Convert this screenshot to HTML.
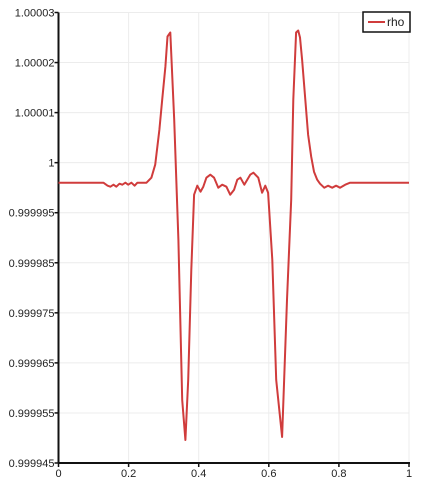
<!DOCTYPE html>
<html><head><meta charset="utf-8"><style>
html,body{margin:0;padding:0;background:#fff;}
svg{display:block;font-family:"Liberation Sans",sans-serif;}
</style></head><body>
<svg id="chart" width="423" height="481">
<rect x="0" y="0" width="423" height="481" fill="#fff"/>
<g id="grid"></g>
<g id="axes"></g>
<path id="line" fill="none" stroke="#d03c3c" stroke-width="2" stroke-linejoin="round"/>
<g>
<rect x="363" y="12" width="47" height="20" fill="#fff" stroke="#111" stroke-width="1.5"/>
<line x1="368" y1="22" x2="385" y2="22" stroke="#d03c3c" stroke-width="2"/>
<text x="387" y="26" font-size="12" fill="#222">rho</text>
</g>
</svg>
<script>
const xs = [0,.128,.140,.148,.157,.165,.174,.182,.191,.199,.208,.217,.225,.251,.265,.276,.288,.296,.305,.311,.319,.330,.342,.353,.362,.370,.379,.387,.396,.405,.413,.422,.433,.444,.456,.467,.479,.490,.501,.510,.519,.530,.547,.556,.570,.581,.590,.598,.610,.621,.638,.652,.664,.670,.678,.684,.689,.695,.704,.712,.721,.729,.738,.746,.758,.769,.781,.792,.803,.818,.832,1];
const rho = [.999996,.999996,.9999954,.9999952,.9999956,.9999952,.9999958,.9999956,.999996,.9999956,.999996,.9999954,.999996,.999996,.999997,.9999996,1.0000066,1.0000126,1.0000192,1.0000252,1.000026,1.0000086,.9999846,.9999526,.9999446,.9999566,.9999786,.9999936,.9999954,.9999942,.9999952,.999997,.9999976,.999997,.999995,.9999956,.9999952,.9999936,.9999946,.9999966,.999997,.9999956,.9999976,.999998,.999997,.999994,.9999954,.999994,.9999806,.9999566,.9999452,.9999726,.9999926,1.0000126,1.000026,1.0000264,1.000025,1.0000206,1.0000126,1.0000056,1.0000012,.9999982,.9999966,.9999958,.999995,.9999954,.999995,.9999954,.999995,.9999956,.999996,.999996];
const xTicks = [0,0.2,0.4,0.6,0.8,1];
const xTickLabels = ["0","0.2","0.4","0.6","0.8","1"];
const yTicks = [1.00003,1.00002,1.00001,1,0.99999,0.99998,0.99997,0.99996,0.99995,0.99994];
const yTickLabels = ["1.00003","1.00002","1.00001","1","0.999995","0.999985","0.999975","0.999965","0.999955","0.999945"];

const X0=58.5,X1=409,Y0=463,Y1=12.5;
const xMin=0,xMax=1,yMin=0.99994,yMax=1.00003;
const sx=v=>X0+(v-xMin)/(xMax-xMin)*(X1-X0);
const sy=v=>Y0-(v-yMin)/(yMax-yMin)*(Y0-Y1);
const NS="http://www.w3.org/2000/svg";
const grid=document.getElementById('grid'), axes=document.getElementById('axes');
function mk(tag,attrs,parent){const e=document.createElementNS(NS,tag);for(const k in attrs)e.setAttribute(k,attrs[k]);parent.appendChild(e);return e;}
xTicks.forEach((t,i)=>{
  const x=sx(t);
  if(i>0){const g=mk('line',{x1:x,x2:x,y1:Y1,y2:Y0,stroke:'#ececec','stroke-width':1},grid);
  
  }
  const tk=mk('line',{x1:x,x2:x,y1:Y0,y2:Y0+4,stroke:'#111','stroke-width':1.5},axes);
  
  
  const tx=mk('text',{x:x,y:Y0+14,'font-size':11,fill:'#222','text-anchor':'middle'},axes);
  tx.textContent=xTickLabels[i];
  
  
});
yTicks.forEach((t,i)=>{
  const y=sy(t);
  if(i<yTicks.length-1){const g=mk('line',{x1:X0,x2:X1,y1:y,y2:y,stroke:'#ececec','stroke-width':1},grid);
  
  }
  const tk=mk('line',{x1:X0-4,x2:X0,y1:y,y2:y,stroke:'#111','stroke-width':1.5},axes);
  
  
  const tx=mk('text',{x:X0-4,y:y+4,'font-size':11,fill:'#222','text-anchor':'end'},axes);
  tx.textContent=yTickLabels[i];
  
  
});
const ya=mk('line',{x1:X0,x2:X0,y1:Y1,y2:Y0,stroke:'#111','stroke-width':2},axes);


const xa=mk('line',{x1:X0,x2:X1+1,y1:Y0,y2:Y0,stroke:'#111','stroke-width':2},axes);


document.getElementById('line').setAttribute('d',xs.map((x,i)=>(i?'L':'M')+sx(x).toFixed(1)+','+sy(rho[i]).toFixed(1)).join(''));
</script>
</body></html>
